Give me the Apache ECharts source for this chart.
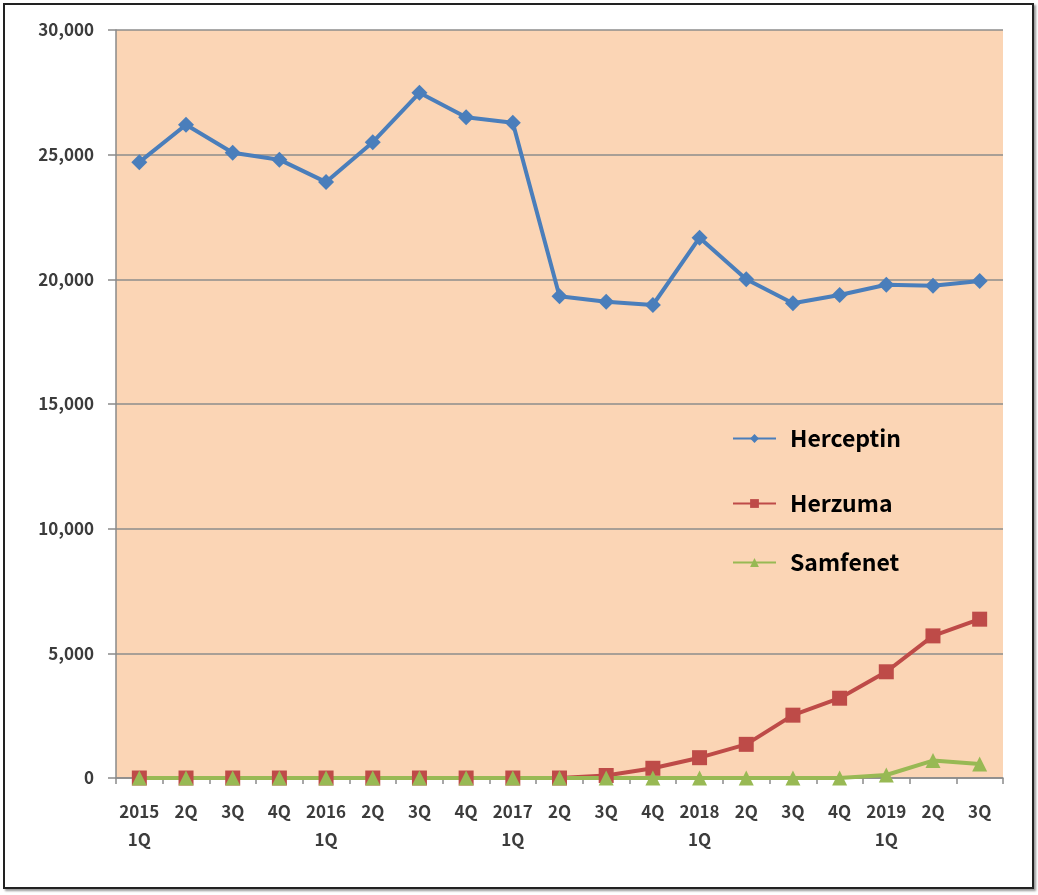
<!DOCTYPE html>
<html>
<head>
<meta charset="utf-8">
<script src="https://cdn.jsdelivr.net/npm/echarts@6/dist/echarts.min.js"></script>
<style>
  html, body { margin: 0; padding: 0; background: #fff; }
  #chart { position: absolute; left: 0; top: 0; width: 1038px; height: 895px; }
  #frame { position: absolute; left: 3px; top: 3px; width: 1027px; height: 882px;
           border: 2px solid #222; box-shadow: 2px 2px 2px #999; pointer-events: none; }
</style>
</head>
<body>
<div id="chart"></div>
<div id="frame"></div>
<script>
// quarters, 2015 1Q .. 2019 3Q
var quarters = ['2015\n1Q', '2Q', '3Q', '4Q', '2016\n1Q', '2Q', '3Q', '4Q', '2017\n1Q', '2Q',
  '3Q', '4Q', '2018\n1Q', '2Q', '3Q', '4Q', '2019\n1Q', '2Q', '3Q'];

var herceptin = [24700, 26200, 25080, 24800, 23900, 25500, 27480, 26500, 26280, 19320,
  19100, 18970, 21670, 20000, 19040, 19370, 19780, 19740, 19930];
var herzuma = [0, 0, 0, 0, 0, 0, 0, 0, 0, 0,
  100, 390, 815, 1350, 2520, 3200, 4260, 5700, 6370];
var samfenet = [0, 0, 0, 0, 0, 0, 0, 0, 0, 0,
  0, 0, 0, 0, 0, 0, 120, 700, 560];

var yTicks = [0, 5000, 10000, 15000, 20000, 25000, 30000];

var chart = echarts.init(document.getElementById('chart'));

function lineSeries(name, data, color, symbol, size) {
  return {
    name: name,
    type: 'line',
    data: data,
    symbol: symbol,
    symbolSize: size,
    lineStyle: { color: color, width: 4 },
    itemStyle: { color: color },
    emphasis: { disabled: true },
    animation: false
  };
}

function legendAt(name, top) {
  return {
    data: [name],
    left: 727,
    top: top,
    itemWidth: 43,
    itemHeight: 11,
    textStyle: {
      fontFamily: 'Noto Sans CJK KR',
      fontWeight: 'bold',
      fontSize: 23,
      color: '#000',
      padding: [0, 0, 0, 9]
    }
  };
}

var labelFont = {
  fontFamily: 'Noto Sans CJK KR',
  fontSize: 17,
  fontWeight: 'bold',
  color: '#3c3c3c'
};

var option = {
  backgroundColor: '#fff',
  legend: [
    legendAt('Herceptin', 422),
    legendAt('Herzuma', 487),
    legendAt('Samfenet', 546)
  ],
  grid: {
    left: 116,
    top: 30,
    right: 35,
    bottom: 117,
    show: true,
    backgroundColor: '#FBD5B5',
    borderWidth: 0
  },
  xAxis: {
    type: 'category',
    data: quarters,
    boundaryGap: true,
    axisLine: { lineStyle: { color: '#8a8a8a', width: 1.5 } },
    axisTick: { show: true, length: 6, lineStyle: { color: '#8a8a8a', width: 1.5 } },
    axisLabel: Object.assign({ interval: 0, margin: 20, lineHeight: 28 }, labelFont),
    splitLine: { show: false }
  },
  yAxis: {
    type: 'value',
    min: yTicks[0],
    max: yTicks[yTicks.length - 1],
    interval: 5000,
    axisLine: { show: true, lineStyle: { color: '#8a8a8a', width: 1.5 } },
    axisTick: { show: true, length: 8, lineStyle: { color: '#8a8a8a', width: 1.5 } },
    axisLabel: Object.assign({
      margin: 22,
      formatter: function (v) { return v.toLocaleString('en-US'); }
    }, labelFont),
    splitLine: { lineStyle: { color: '#8c8c8c', width: 1.5 } }
  },
  series: [
    lineSeries('Herceptin', herceptin, '#4A7EBB', 'diamond', 16),
    lineSeries('Herzuma', herzuma, '#BE4B48', 'rect', 15),
    lineSeries('Samfenet', samfenet, '#98B954', 'triangle', 15)
  ]
};

chart.setOption(option);
</script>
</body>
</html>
